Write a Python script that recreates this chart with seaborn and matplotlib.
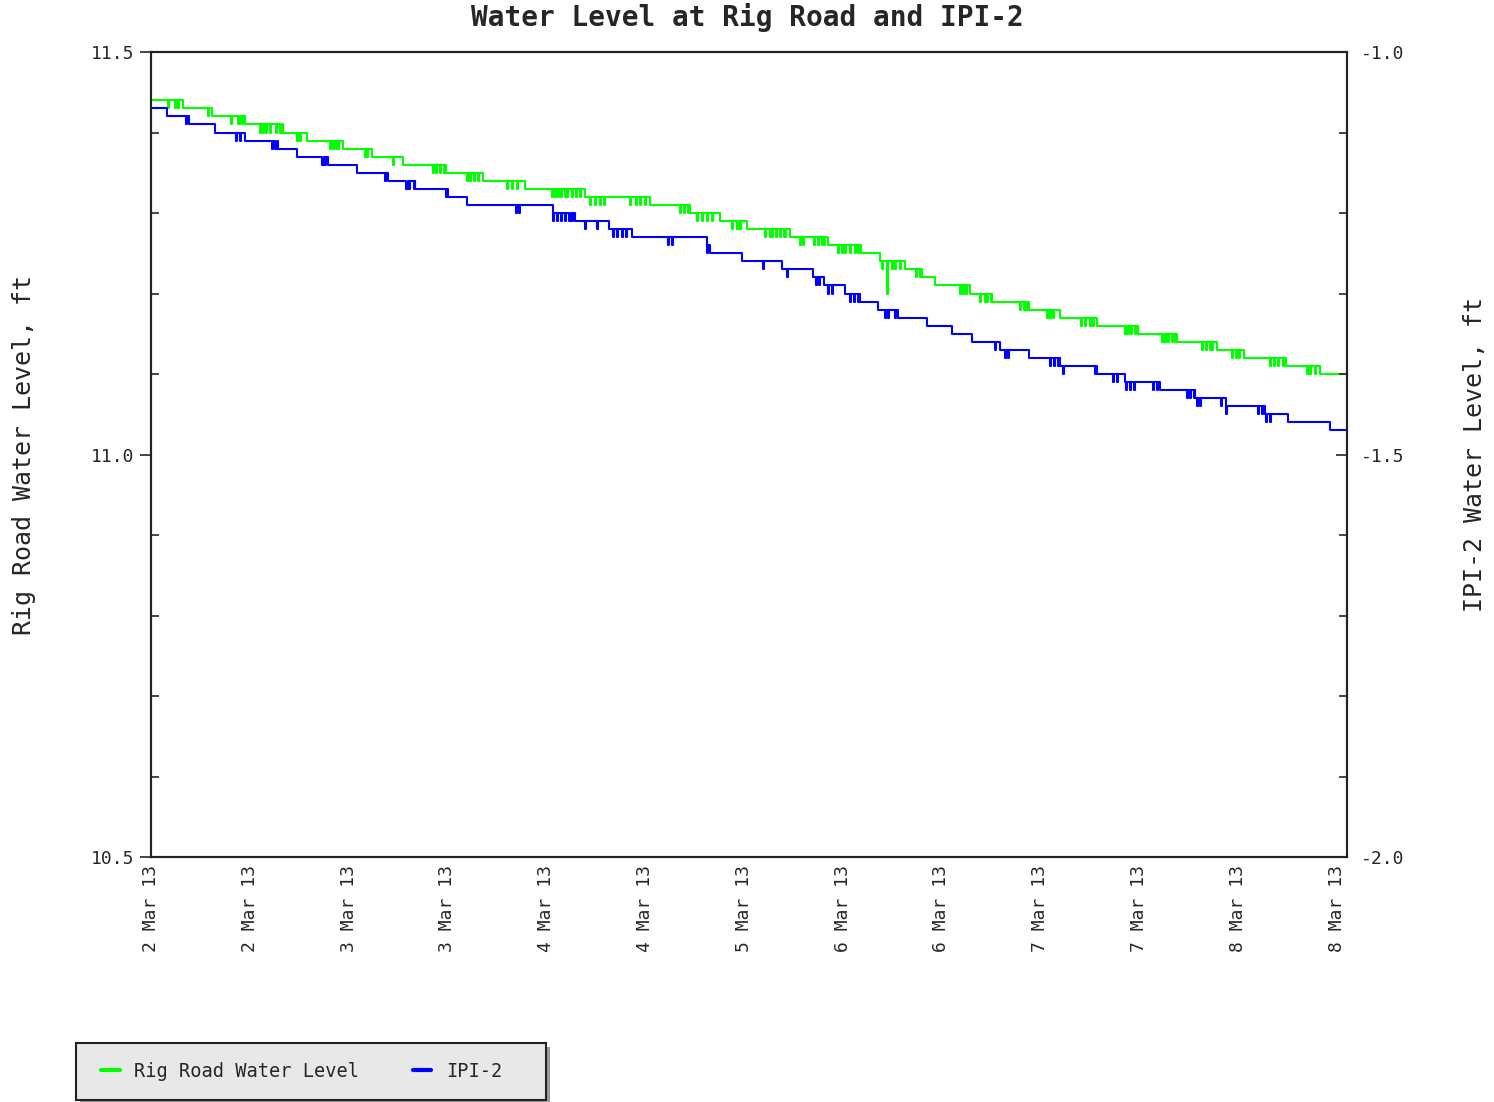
import numpy as np
import pandas as pd
import matplotlib
matplotlib.use('Agg')
import matplotlib.pyplot as plt
import matplotlib.dates as mdates
from matplotlib.ticker import FixedLocator
from matplotlib.patches import Rectangle
import seaborn as sns

# record window: 7 days from 2 Mar 2013, axis ticks every ~13.9 h
start = pd.Timestamp('2013-03-02 00:00')
end_hour = 168.0
tick_step_hours = 13.88

# hours after start where each series steps down one level
green_levels = [11.44, 11.43, 11.42, 11.41, 11.40, 11.39, 11.38, 11.37, 11.36, 11.35,
                11.34, 11.33, 11.32, 11.31, 11.30, 11.29, 11.28, 11.27, 11.26, 11.25,
                11.24, 11.23, 11.22, 11.21, 11.20, 11.19, 11.18, 11.17, 11.16, 11.15,
                11.14, 11.13, 11.12, 11.11, 11.10]
green_steps = [4.5, 8.6, 13.2, 18.5, 21.9, 27.0, 31.0, 35.4, 41.5, 46.6,
               52.5, 61.0, 70.1, 75.7, 79.9, 83.8, 89.8, 95.1, 99.8, 102.4,
               105.9, 108.3, 110.1, 115.0, 118.2, 123.4, 127.7, 132.9, 138.6, 144.1,
               149.7, 153.6, 159.5, 164.2]
# short drops to the next level (sensor flicker)
green_dips = [2.4, 3.4, 3.8, 8.0, 11.3, 12.3, 12.8, 15.3, 15.7, 16.2, 16.7, 17.6, 18.2,
              20.5, 20.9, 25.1, 25.6, 26.0, 26.3, 30.1, 30.4, 34.0, 39.6, 40.1, 40.6, 41.2,
              44.4, 44.8, 45.4, 45.9, 50.0, 50.7, 51.4, 56.3, 56.8, 57.2, 57.6, 58.2, 58.5,
              59.1, 59.7, 60.3, 61.7, 62.4, 63.1, 63.7, 67.3, 68.1, 68.7, 69.4, 74.3, 74.9,
              75.4, 76.7, 77.4, 78.1, 78.8, 81.6, 82.4, 82.8, 86.3, 87.0, 87.3, 87.8, 88.4,
              89.0, 91.2, 91.6, 93.2, 93.7, 94.3, 94.6, 96.5, 97.1, 97.5, 98.2, 98.9, 99.3,
              102.7, 103.5, 104.1, 104.5, 105.2, 107.5, 108.1, 113.6, 114.1, 114.5, 116.5,
              117.2, 117.5, 118.0, 122.1, 122.6, 123.0, 125.9, 126.3, 126.7, 130.7, 131.2,
              131.9, 132.3, 136.9, 137.2, 137.7, 138.3, 142.1, 142.5, 142.9, 143.5, 143.8,
              147.7, 148.2, 148.8, 149.1, 151.9, 152.4, 152.9, 157.2, 157.8, 158.3, 159.0,
              162.4, 162.8, 163.5]
green_spike_hour = 103.4
green_spike_value = 11.20

blue_levels = [-1.07, -1.08, -1.09, -1.10, -1.11, -1.12, -1.13, -1.14, -1.15, -1.16,
               -1.17, -1.18, -1.19, -1.20, -1.21, -1.22, -1.23, -1.24, -1.25, -1.26,
               -1.27, -1.28, -1.29, -1.30, -1.31, -1.32, -1.33, -1.34, -1.35, -1.36,
               -1.37, -1.38, -1.39, -1.40, -1.41, -1.42, -1.43, -1.44, -1.45, -1.46,
               -1.47]
blue_steps = [2.2, 5.3, 9.0, 13.2, 17.8, 20.5, 24.9, 28.9, 33.3, 37.1,
              41.8, 44.4, 51.8, 59.6, 64.4, 67.6, 73.3, 78.6, 83.1, 88.7,
              93.0, 94.6, 97.5, 99.6, 102.2, 104.9, 109.0, 112.6, 115.3, 119.3,
              123.4, 127.7, 132.9, 136.9, 141.7, 146.7, 151.0, 156.5, 159.8, 165.7]
blue_dips = [4.9, 11.9, 12.5, 17.0, 17.5, 24.1, 24.4, 32.9, 35.9, 36.3, 36.9, 41.4,
             51.3, 51.7, 56.5, 57.0, 57.6, 58.2, 58.8, 59.2, 61.0, 62.7, 64.9, 65.5,
             66.2, 66.8, 72.7, 73.2, 78.1, 86.0, 89.4, 93.4, 93.9, 95.1, 95.7, 98.2,
             98.8, 99.3, 103.1, 103.5, 104.5, 118.6, 120.0, 120.4, 126.3, 126.8, 127.4,
             128.1, 132.6, 135.1, 135.7, 137.0, 137.6, 138.1, 140.8, 141.3, 145.5,
             146.0, 146.5, 146.9, 147.4, 150.3, 151.0, 155.5, 156.1, 156.6, 157.2]


def build(levels, steps, dips, spikes=()):
    steps = np.asarray(steps)
    hrs = [0.0] + list(steps) + [end_hour]
    vals = list(levels) + [levels[-1]]
    for h in dips:
        lv = levels[np.searchsorted(steps, h, side='right')]
        hrs += [h, h + 0.15]
        vals += [round(lv - 0.01, 2), lv]
    for h, v in spikes:
        lv = levels[np.searchsorted(steps, h, side='right')]
        hrs += [h, h + 0.15]
        vals += [v, lv]
    df = pd.DataFrame({'hours': hrs, 'level': vals}).sort_values('hours', kind='stable')
    df['time'] = start + pd.to_timedelta(df['hours'], unit='h')
    return df


green = build(green_levels, green_steps, green_dips, [(green_spike_hour, green_spike_value)])
blue = build(blue_levels, blue_steps, blue_dips)

sns.set_style('white')
plt.rcParams['font.family'] = ['DejaVu Sans Mono']

fig = plt.figure(figsize=(14.94, 11.02), dpi=100)
ax = fig.add_axes([0.101, 0.2223, 0.8005, 0.7305])
ax2 = ax.twinx()

sns.lineplot(data=green, x='time', y='level', ax=ax, color='#00ff00', lw=1.5,
             drawstyle='steps-post', estimator=None, sort=False, label='Rig Road Water Level')
sns.lineplot(data=blue, x='time', y='level', ax=ax2, color='#0000ff', lw=1.5,
             drawstyle='steps-post', estimator=None, sort=False, label='IPI-2')

t0 = mdates.date2num(start)
ax.set_xlim(t0, t0 + end_hour / 24)
ax.set_ylim(10.5, 11.5)
ax2.set_ylim(-2.0, -1.0)

ax.yaxis.set_major_locator(FixedLocator([10.5, 11.0, 11.5]))
ax.yaxis.set_minor_locator(FixedLocator(np.arange(10.6, 11.45, 0.1)))
ax2.yaxis.set_major_locator(FixedLocator([-2.0, -1.5, -1.0]))
ax2.yaxis.set_minor_locator(FixedLocator(np.arange(-1.9, -1.05, 0.1)))
ax.yaxis.set_major_formatter(plt.FormatStrFormatter('%.1f'))
ax2.yaxis.set_major_formatter(plt.FormatStrFormatter('%.1f'))

major_x = t0 + np.arange(13) * tick_step_hours / 24
minor_x = t0 + np.arange(61) * tick_step_hours / 24 / 5
ax.xaxis.set_major_locator(FixedLocator(major_x))
ax.xaxis.set_minor_locator(FixedLocator(minor_x))
ax.xaxis.set_major_formatter(mdates.DateFormatter('%-d %b %y'))

for lab in ax.get_xticklabels():
    lab.set_rotation(90)
ax.tick_params(axis='x', which='major', direction='in', length=8, width=1.2, labelsize=13, pad=6)
ax.tick_params(axis='x', which='minor', direction='in', length=5, width=1.2)
ax.tick_params(axis='y', which='major', direction='out', length=8, width=1.2, labelsize=13, pad=4, left=True)
ax.tick_params(axis='y', which='minor', direction='in', length=6, width=1.2, left=True)
ax2.tick_params(axis='y', which='major', direction='in', length=8, width=1.2, labelsize=13, pad=10, right=True)
ax2.tick_params(axis='y', which='minor', direction='in', length=6, width=1.2, right=True)

for a in (ax, ax2):
    for s in a.spines.values():
        s.set_color('#222222')
        s.set_linewidth(1.5)

ax.set_xlabel('')
ax.set_ylabel('Rig Road Water Level, ft', fontsize=18)
ax2.set_ylabel('IPI-2 Water Level, ft', fontsize=18)
ax.yaxis.set_label_coords(-0.096, 0.5)
ax2.yaxis.set_label_coords(1.097, 0.5)

fig.suptitle('Water Level at Rig Road and IPI-2', fontsize=20, fontweight='bold', y=0.984, va='center')

h1, l1 = ax.get_legend_handles_labels()
h2, l2 = ax2.get_legend_handles_labels()
ax.get_legend().remove()
ax2.get_legend().remove()

# legend box with drop shadow, as in the source chart
bx, by, bw, bh = 76 / 1494, 2 / 1102, 470 / 1494, 57 / 1102
fig.patches.append(Rectangle((bx + 4 / 1494, by - 4 / 1102), bw, bh, transform=fig.transFigure,
                             facecolor='#9a9a9a', edgecolor='none', zorder=1))
fig.patches.append(Rectangle((bx, by), bw, bh, transform=fig.transFigure,
                             facecolor='#e8e8e8', edgecolor='#222222', lw=1.5, zorder=2))
leg = fig.legend(h1 + h2, l1 + l2, loc='center left', bbox_to_anchor=(101 / 1494, by + bh / 2),
                 ncol=2, prop={'size': 13.4}, frameon=False, handlelength=1.0,
                 handletextpad=0.8, columnspacing=2.85, borderpad=0, borderaxespad=0)
leg.set_zorder(3)
for line in leg.get_lines():
    line.set_linewidth(3)

fig.savefig('out.png', dpi=100)
